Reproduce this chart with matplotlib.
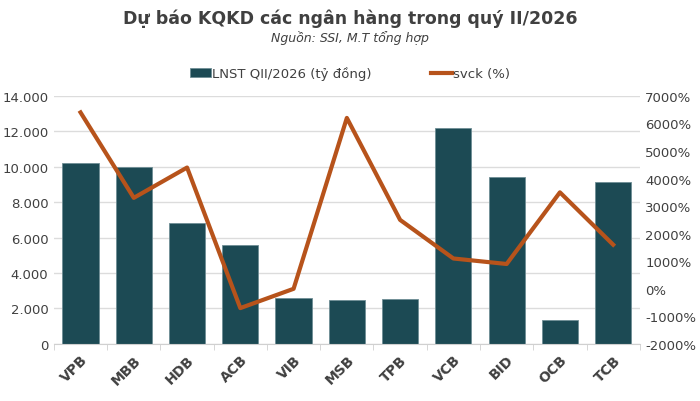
import numpy as np
import matplotlib.pyplot as plt
from matplotlib.ticker import FuncFormatter, FixedLocator

banks = ["VPB", "MBB", "HDB", "ACB", "VIB", "MSB", "TPB", "VCB", "BID", "OCB", "TCB"]
lnst = [10200, 10000, 6800, 5600, 2600, 2500, 2550, 12200, 9400, 1350, 9150]
svck = [6400, 3300, 4400, -700, 0, 6200, 2500, 1100, 900, 3500, 1600]

bar_color = "#1C4A54"
line_color = "#B7531B"
text_color = "#404040"

fig = plt.figure(figsize=(7, 4.02), dpi=100)
ax = fig.add_axes([0.077, 0.142, 0.837, 0.617])
x = np.arange(len(banks))

ax.bar(x, lnst, width=0.68, color=bar_color, edgecolor="#6F8E95", linewidth=0.6,
       label="LNST QII/2026 (tỷ đồng)", zorder=2)
ax.set_ylim(0, 14000)
ax.set_yticks(np.arange(0, 14001, 2000))
ax.yaxis.set_major_formatter(FuncFormatter(lambda v, p: f"{int(v):,}".replace(",", ".")))
ax.set_xlim(-0.5, len(banks) - 0.5)
ax.set_xticks(x)
ax.set_xticklabels(banks, rotation=45, fontweight="bold", fontsize=10, color=text_color)
ax.tick_params(axis="x", length=0, pad=6)
ax.xaxis.set_minor_locator(FixedLocator(np.arange(-0.5, len(banks), 1)))
ax.tick_params(axis="x", which="minor", length=4, color="#D0D0D0")
ax.tick_params(axis="y", length=0, labelsize=9.5, labelcolor=text_color, pad=4)
ax.grid(axis="y", color="#DCDCDC", linewidth=1, zorder=0)
for s in ["top", "right", "left"]:
    ax.spines[s].set_visible(False)
ax.spines["bottom"].set_color("#D0D0D0")
for lbl in ax.get_xticklabels():
    lbl.set_ha("right")
    lbl.set_rotation_mode("anchor")

ax2 = ax.twinx()
ax2.plot(x, svck, color=line_color, linewidth=3, label="svck (%)", zorder=3)
ax2.set_ylim(-2000, 7000)
ax2.set_yticks(np.arange(-2000, 7001, 1000))
ax2.yaxis.set_major_formatter(FuncFormatter(lambda v, p: f"{int(v)}%"))
ax2.tick_params(axis="y", length=0, labelsize=9.5, labelcolor=text_color, pad=4)
for s in ["top", "right", "left", "bottom"]:
    ax2.spines[s].set_visible(False)

h1, l1 = ax.get_legend_handles_labels()
h2, l2 = ax2.get_legend_handles_labels()
fig.legend(h1 + h2, l1 + l2, loc="center", bbox_to_anchor=(0.5, 0.815), ncol=2,
           frameon=False, fontsize=9.5, columnspacing=4.5, handlelength=1.6,
           handletextpad=0.1, labelcolor=text_color)

fig.text(0.5, 0.953, "Dự báo KQKD các ngân hàng trong quý II/2026", ha="center", va="center",
         fontsize=12.5, fontweight="bold", color=text_color)
fig.text(0.5, 0.905, "Nguồn: SSI, M.T tổng hợp", ha="center", va="center",
         fontsize=9, style="italic", color=text_color)

fig.savefig("out.png", dpi=100)
